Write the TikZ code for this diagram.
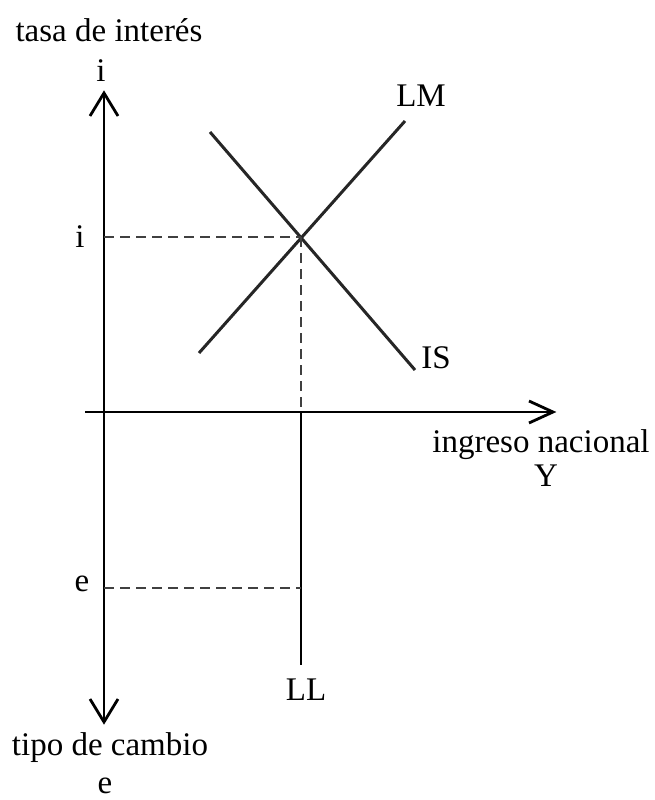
\documentclass[tikz,border=0pt]{standalone}
\usepackage{fontspec}
\setmainfont{Liberation Serif}
\begin{document}
\begin{tikzpicture}[x=1pt,y=-1pt,
  axis/.style={line width=2.8pt,black},
  curve/.style={line width=3pt,black!85},
  guide/.style={line width=1.6pt,black!75,dash pattern=on 10pt off 6pt},
  lbl/.style={inner sep=0pt,font=\fontsize{33}{37}\selectfont}]
\useasboundingbox (0,0) rectangle (655,800);
% axes
\coordinate (vtop) at (104,93);
\coordinate (vbot) at (104,722);
\coordinate (hl) at (85,412);
\coordinate (hr) at (553,412);
\draw[axis] (vbot) -- (vtop);
\draw[axis] (vtop) ++(-14,23) -- (vtop) -- ++(14,23);
\draw[axis] (vbot) ++(-14,-23) -- (vbot) -- ++(14,-23);
\draw[axis] (hl) -- (hr);
\draw[axis] (hr) ++(-24,-11) -- (hr) -- ++(-24,11);
% curves
\coordinate (lm1) at (199,353);
\coordinate (lm2) at (405,121);
\coordinate (is1) at (210,132);
\coordinate (is2) at (415,370);
\coordinate (eq) at (301,237);
\coordinate (ia) at (104,237);
\coordinate (ya) at (301,412);
\coordinate (ll) at (301,665);
\coordinate (ee) at (301,588);
\coordinate (ea) at (104,588);
\draw[curve] (lm1) -- (lm2);
\draw[curve] (is1) -- (is2);
\draw[axis] (ya) -- (ll);
\draw[guide] (ia) -- (eq);
\draw[guide] (eq) -- (ya);
\draw[guide] (ea) -- (ee);
% labels
\node[lbl] (t1) at (109,30) {tasa de interés};
\node[lbl] (t2) at (101,71) {i};
\node[lbl] (t3) at (80,237) {i};
\node[lbl] (t4) at (82,584) {e};
\node[lbl] (t5) at (421,96) {LM};
\node[lbl] (t6) at (436,358) {IS};
\node[lbl] (t7) at (541,445) {ingreso nacional};
\node[lbl] (t8) at (546,476) {Y};
\node[lbl] (t9) at (306,690) {LL};
\node[lbl] (t10) at (110,748) {tipo de cambio};
\node[lbl] (t11) at (105,786) {e};
\end{tikzpicture}
\end{document}
